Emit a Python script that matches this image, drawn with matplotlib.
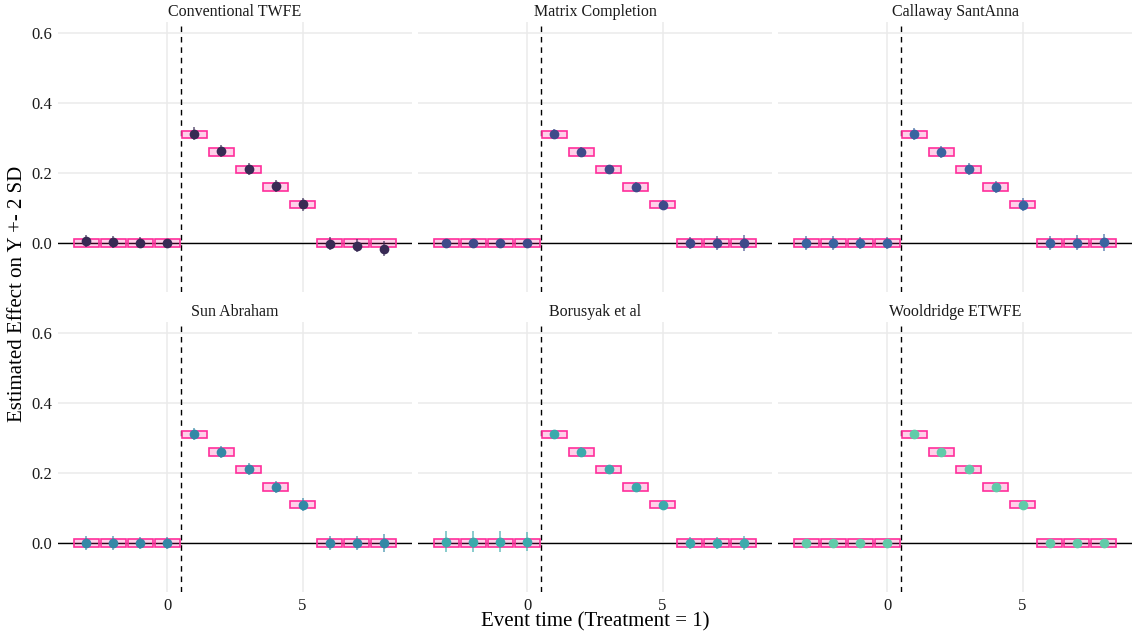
import matplotlib
matplotlib.use('Agg')
import matplotlib.pyplot as plt
from matplotlib.patches import Rectangle

plt.rcParams['font.family'] = ['Liberation Serif', 'DejaVu Serif']

event_time = [-3, -2, -1, 0, 1, 2, 3, 4, 5, 6, 7, 8]
true_effect = [0, 0, 0, 0, 0.31, 0.26, 0.21, 0.16, 0.11, 0, 0, 0]

methods = ['Conventional TWFE', 'Matrix Completion', 'Callaway SantAnna',
           'Sun Abraham', 'Borusyak et al', 'Wooldridge ETWFE']

est_twfe = [0.006, 0.002, 0.001, 0.0, 0.312, 0.262, 0.212, 0.162, 0.110, -0.002, -0.008, -0.016]
est_mc = [0.0, 0.0, 0.0, 0.0, 0.312, 0.261, 0.211, 0.161, 0.109, 0.0, 0.0, 0.0]
est_cs = [0.0, 0.0, 0.0, 0.0, 0.312, 0.261, 0.210, 0.160, 0.109, 0.001, 0.001, 0.002]
est_sa = [0.0, 0.0, 0.0, 0.0, 0.312, 0.261, 0.210, 0.160, 0.109, 0.0, 0.0, 0.0]
est_bjs = [0.004, 0.004, 0.004, 0.004, 0.312, 0.261, 0.210, 0.160, 0.109, 0.0, 0.0, 0.0]
est_etwfe = [0.0, 0.0, 0.0, 0.0, 0.312, 0.261, 0.210, 0.160, 0.109, 0.0, 0.0, 0.0]

# half width of the +- 2 SD bars
hw_twfe = [0.018, 0.017, 0.016, 0.010, 0.018, 0.017, 0.017, 0.017, 0.018, 0.018, 0.019, 0.022]
hw_mc = [0.006, 0.006, 0.006, 0.006, 0.013, 0.013, 0.013, 0.013, 0.014, 0.018, 0.019, 0.022]
hw_cs = [0.020, 0.019, 0.018, 0.017, 0.017, 0.017, 0.017, 0.017, 0.018, 0.020, 0.021, 0.025]
hw_sa = [0.020, 0.019, 0.018, 0.017, 0.017, 0.017, 0.017, 0.017, 0.018, 0.020, 0.021, 0.025]
hw_bjs = [0.030, 0.030, 0.030, 0.026, 0.012, 0.012, 0.012, 0.012, 0.012, 0.016, 0.017, 0.020]
hw_etwfe = [0.004, 0.004, 0.004, 0.004, 0.005, 0.005, 0.005, 0.005, 0.005, 0.005, 0.005, 0.006]

estimates = [est_twfe, est_mc, est_cs, est_sa, est_bjs, est_etwfe]
halfwidths = [hw_twfe, hw_mc, hw_cs, hw_sa, hw_bjs, hw_etwfe]
colors = ['#382A54', '#3F4A8A', '#3A64A0', '#3488A6', '#3BAAAC', '#60CBA9']

W, H = 1132, 639
fig = plt.figure(figsize=(W / 100, H / 100), dpi=100)

col_x = [58, 418, 778]
pw = 354
row_y = [22, 322]
ph = 270

for i, name in enumerate(methods):
    r, c = divmod(i, 3)
    ax = fig.add_axes([col_x[c] / W, 1 - (row_y[r] + ph) / H, pw / W, ph / H])
    ax.set_xlim(-4.05, 9.05)
    ax.set_ylim(-0.14, 0.631)
    for s in ax.spines.values():
        s.set_visible(False)
    ax.set_xticks([0, 5])
    ax.set_yticks([0.0, 0.2, 0.4, 0.6])
    ax.grid(True, color='#EBEBEB', lw=1.1, zorder=0)
    ax.set_axisbelow(True)
    ax.tick_params(length=0, labelsize=12, colors='#1A1A1A', pad=4)
    if r == 0:
        ax.set_xticklabels([])
    if c != 0:
        ax.set_yticklabels([])
    else:
        ax.set_yticklabels(['0.0', '0.2', '0.4', '0.6'])

    ax.axhline(0, color='black', lw=1.0, zorder=1)
    ax.axvline(0.5, color='black', lw=1.0, ls=(0, (4, 3.5)), zorder=1)

    for x, t in zip(event_time, true_effect):
        ax.add_patch(Rectangle((x - 0.45, t - 0.011), 0.9, 0.022,
                               facecolor='#FF1493', alpha=0.2, lw=0, zorder=2))
        ax.add_patch(Rectangle((x - 0.45, t - 0.011), 0.9, 0.022,
                               facecolor='none', edgecolor='#FF2E9B', lw=1.2, zorder=2))

    est = estimates[i]
    hw = halfwidths[i]
    col = colors[i]
    ax.vlines(event_time, [e - h for e, h in zip(est, hw)], [e + h for e, h in zip(est, hw)],
              color=col, lw=1.2, alpha=0.7, zorder=3)
    ax.plot(event_time, est, 'o', color=col, ms=7, mec='none', zorder=4)

    ax.text(0.5, 1.0 + 10 / ph, name, transform=ax.transAxes,
            ha='center', va='center', fontsize=11.5, color='#1A1A1A')

fig.text(18 / W, 1 - 294 / H, 'Estimated Effect on Y +- 2 SD', rotation=90,
         ha='center', va='center', fontsize=15, color='black')
fig.text(595 / W, 1 - 622 / H, 'Event time (Treatment = 1)',
         ha='center', va='center', fontsize=15, color='black')

fig.savefig('out.png', dpi=100)
